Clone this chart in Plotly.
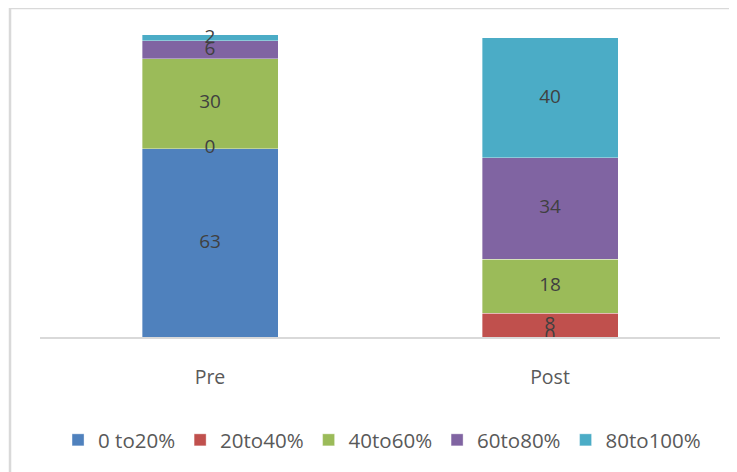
import plotly.graph_objects as go

categories = ["Pre", "Post"]
series_names = ["0 to20%", "20to40%", "40to60%", "60to80%", "80to100%"]
v_0_20 = [63, 0]
v_20_40 = [0, 8]
v_40_60 = [30, 18]
v_60_80 = [6, 34]
v_80_100 = [2, 40]
colors = ["#4F81BD", "#C0504D", "#9BBB59", "#8064A2", "#4BACC6"]

series = [v_0_20, v_20_40, v_40_60, v_60_80, v_80_100]

FONT = "Open Sans, Noto Sans, sans-serif"
fig = go.Figure()
base = [0, 0]
label_x, label_y, label_t = [], [], []
for name, vals, col in zip(series_names, series, colors):
    fig.add_trace(go.Bar(
        x=categories, y=vals, name=name,
        marker=dict(color=col, line=dict(width=0.6, color="rgba(255,255,255,0.6)")),
        width=0.4, hoverinfo="skip",
    ))
    for i, c in enumerate(categories):
        label_x.append(c)
        label_y.append(base[i] + vals[i] / 2)
        label_t.append(str(vals[i]))
        base[i] += vals[i]

fig.add_trace(go.Scatter(
    x=label_x, y=label_y, text=label_t, mode="text", showlegend=False,
    textfont=dict(family=FONT, size=19, color="#404040"), hoverinfo="skip",
))

fig.update_layout(
    barmode="stack",
    width=737, height=472,
    margin=dict(l=32, r=25, t=12, b=143),
    paper_bgcolor="white", plot_bgcolor="white",
    font=dict(family=FONT, size=19, color="#595959"),
    xaxis=dict(showline=True, linecolor="#D9D9D9", linewidth=1.5, ticks="",
               showgrid=False, zeroline=False, ticklabelstandoff=22,
               tickfont=dict(family=FONT, size=19.5, color="#595959")),
    yaxis=dict(range=[0, 106], visible=False, showgrid=False, zeroline=False),
    legend=dict(orientation="h", x=0.503, xanchor="center", y=-0.325, yanchor="middle",
                font=dict(family=FONT, size=20.5, color="#595959"), traceorder="normal",
                itemwidth=30),
    shapes=[dict(type="rect", xref="paper", yref="paper",
                 x0=-0.0441, x1=1.06, y0=-0.5, y1=1.0379,
                 line=dict(color="#D9D9D9", width=2.5), fillcolor="rgba(0,0,0,0)")],
)

fig.write_html("out.html")
